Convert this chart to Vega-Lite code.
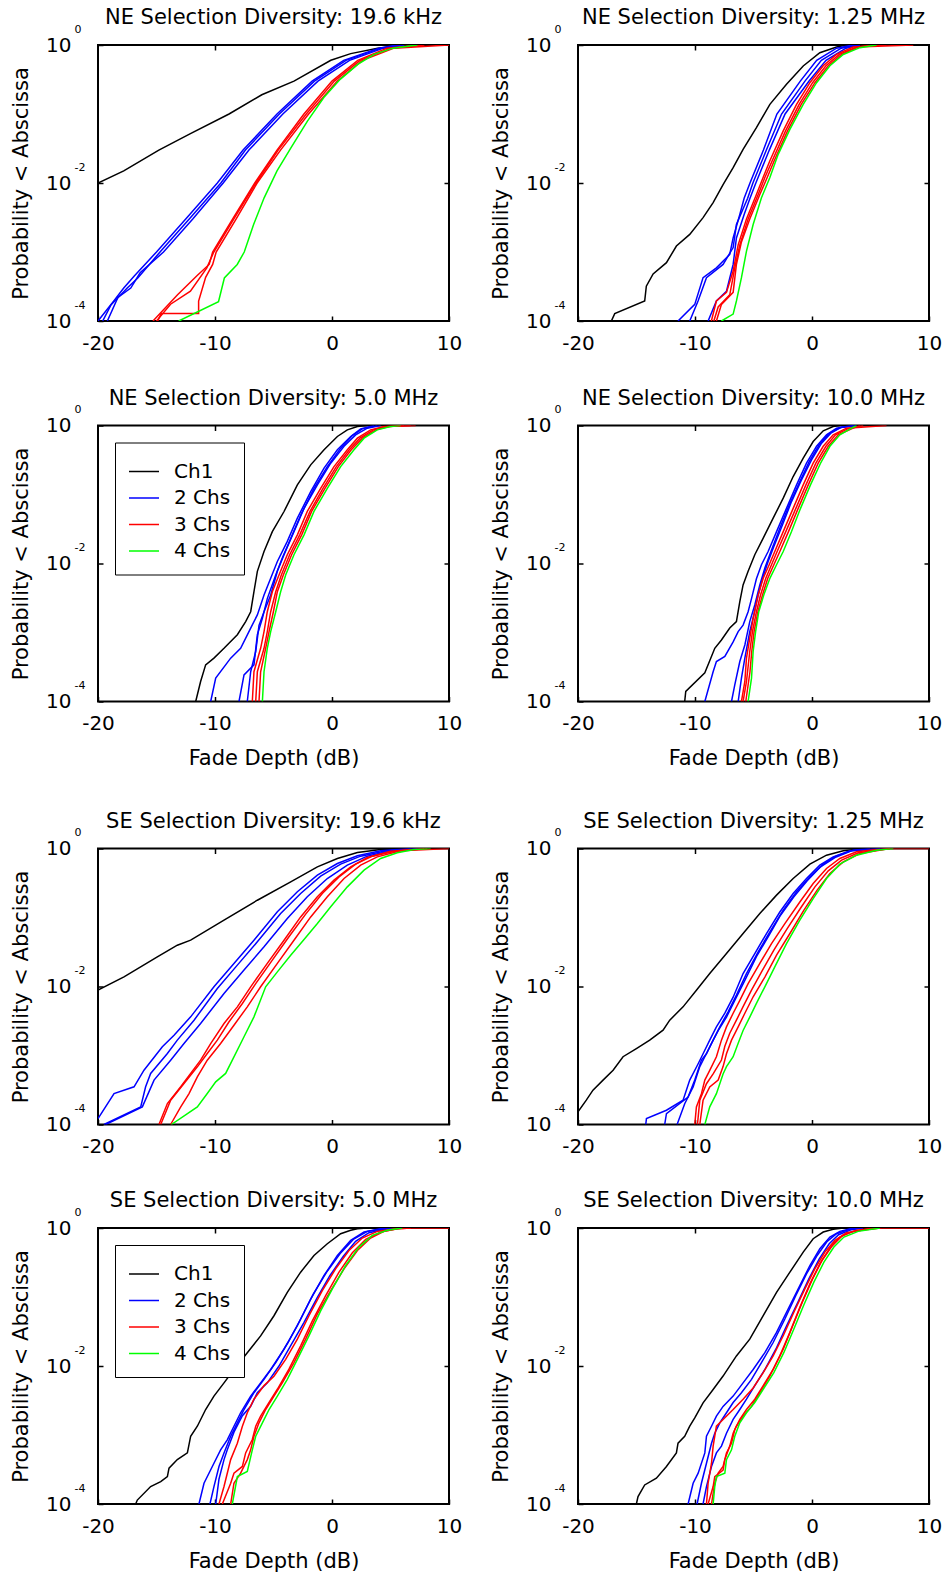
{
"$schema": "https://vega.github.io/schema/vega-lite/v6.json",
"background": "white",
"padding": {"left": 9, "top": 6, "right": 5, "bottom": 5},
"datasets": {"curves": [
{"panel":"a","s":"Ch1","id":"k","x":[-20,-17.8,-14.8,-12.1,-8.8,-6.0,-3.25,-0.1,1.6,3.9,6.4],"p":[0.01,0.015,0.03,0.052,0.1,0.19,0.3,0.6,0.75,0.9,1]},
{"panel":"a","s":"2 Chs","id":"b1","x":[-20,-18.6,-17.8,-16.9,-15.0,-12.5,-9.8,-7.6,-4.7,-1.7,1.0,4.0,5.6],"p":[0.0001,0.0002,0.0003,0.00045,0.001,0.003,0.01,0.03,0.1,0.3,0.6,0.9,1]},
{"panel":"a","s":"2 Chs","id":"b2","x":[-19.6,-18.9,-17.5,-16.6,-14.7,-12.2,-9.5,-7.4,-4.5,-1.5,1.2,4.2,5.9],"p":[0.0001,0.00017,0.0003,0.00042,0.001,0.003,0.01,0.03,0.1,0.3,0.6,0.9,1]},
{"panel":"a","s":"2 Chs","id":"b3","x":[-19.2,-18.3,-17.2,-16.4,-14.4,-11.9,-9.3,-7.1,-4.2,-1.2,1.5,4.4,6.2],"p":[0.0001,0.00022,0.0003,0.0005,0.001,0.003,0.01,0.03,0.1,0.3,0.6,0.9,1]},
{"panel":"a","s":"3 Chs","id":"r1","x":[-15.3,-13.2,-11.5,-10.5,-10.2,-8.5,-6.6,-4.7,-2.4,0.0,2.2,4.7,7.5],"p":[0.0001,0.00024,0.00046,0.00066,0.001,0.003,0.01,0.03,0.1,0.3,0.6,0.9,1]},
{"panel":"a","s":"3 Chs","id":"r2","x":[-15.0,-13.8,-12.1,-10.7,-10.1,-8.4,-6.5,-4.6,-2.2,0.2,2.4,5.0,7.9],"p":[0.0001,0.000175,0.00027,0.00059,0.001,0.003,0.01,0.03,0.1,0.3,0.6,0.9,1]},
{"panel":"a","s":"3 Chs","id":"r3","x":[-14.9,-14.6,-11.4,-11.4,-10.8,-10.2,-9.9,-8.2,-6.4,-4.4,-2.0,0.45,2.6,5.3,10],"p":[0.0001,0.000128,0.000128,0.000195,0.00043,0.00066,0.001,0.003,0.01,0.03,0.1,0.3,0.6,0.9,1]},
{"panel":"a","s":"4 Chs","id":"g","x":[-13.1,-9.7,-9.2,-8.1,-7.5,-6.7,-5.8,-4.7,-3.5,-2.1,-0.7,0.7,2.2,3.6,5.2,7.3],"p":[0.0001,0.00019,0.00042,0.00066,0.001,0.0025,0.0061,0.015,0.0325,0.079,0.173,0.318,0.525,0.732,0.9,1]},

{"panel":"b","s":"Ch1","id":"k","x":[-17.15,-16.86,-14.3,-14.16,-13.58,-12.44,-11.59,-10.45,-9.31,-8.45,-7.6,-6.74,-5.89,-4.75,-3.6,-2.18,-0.75,0.67,2.1,2.95],"p":[0.0001,0.000128,0.000195,0.00032,0.00048,0.0007,0.00122,0.0018,0.00315,0.0052,0.0095,0.0167,0.0308,0.0634,0.138,0.269,0.496,0.774,0.935,1]},
{"panel":"b","s":"2 Chs","id":"b1","x":[-11.45,-10.02,-9.31,-8.17,-7.03,-6.74,-6.17,-5.8,-5.3,-4.15,-3.0,-1.0,0.4,2.1,3.5],"p":[0.0001,0.000174,0.000425,0.00059,0.00092,0.0016,0.0035,0.006,0.01,0.03,0.1,0.3,0.6,0.9,1]},
{"panel":"b","s":"2 Chs","id":"b2","x":[-10.45,-9.74,-9.02,-7.6,-6.74,-6.46,-5.95,-5.5,-5.05,-3.9,-2.6,-0.6,0.8,2.5,3.8],"p":[0.0001,0.000195,0.000425,0.00066,0.00116,0.0025,0.004,0.006,0.01,0.03,0.1,0.3,0.6,0.9,1]},
{"panel":"b","s":"2 Chs","id":"b3","x":[-8.88,-8.17,-7.31,-6.74,-6.46,-5.8,-5.3,-4.8,-3.65,-2.3,-0.25,1.2,2.9,4.1],"p":[0.0001,0.000195,0.00027,0.00066,0.0016,0.0035,0.006,0.01,0.03,0.1,0.3,0.6,0.9,1]},
{"panel":"b","s":"3 Chs","id":"r1","x":[-8.6,-8.17,-7.31,-6.74,-6.31,-5.6,-4.75,-4.18,-3.6,-2.46,-1.32,-0.18,0.96,2.1,3.52,6.37],"p":[0.0001,0.000195,0.00026,0.00053,0.00127,0.003,0.0068,0.012,0.021,0.057,0.138,0.284,0.5,0.73,0.935,1]},
{"panel":"b","s":"3 Chs","id":"r2","x":[-8.39,-8.02,-7.03,-6.6,-6.17,-5.46,-4.6,-4.03,-3.4,-2.26,-1.1,0.05,1.19,2.33,3.81,8.66],"p":[0.0001,0.00016,0.00024,0.00059,0.00127,0.003,0.0068,0.012,0.021,0.057,0.138,0.284,0.5,0.73,0.935,1]},
{"panel":"b","s":"3 Chs","id":"r3","x":[-8.17,-7.74,-6.74,-6.46,-6.03,-5.32,-4.46,-3.83,-3.23,-2.09,-0.92,0.25,1.39,2.53,3.95,5.24],"p":[0.0001,0.000174,0.00026,0.00066,0.0014,0.003,0.0068,0.012,0.021,0.057,0.138,0.284,0.5,0.73,0.935,1]},
{"panel":"b","s":"4 Chs","id":"g","x":[-7.74,-6.74,-6.46,-6.03,-5.6,-5.03,-4.32,-3.6,-2.89,-1.89,-0.75,0.39,1.53,2.67,4.09,5.52],"p":[0.0001,0.000126,0.000195,0.000425,0.00103,0.0025,0.0061,0.012,0.026,0.06,0.138,0.284,0.5,0.73,0.915,1]},

{"panel":"c","s":"Ch1","id":"k","x":[-11.65,-11.23,-10.8,-10.09,-9.23,-8.09,-7.38,-6.95,-6.67,-6.38,-5.81,-5.1,-4.1,-2.96,-1.82,-0.68,0.46,1.31,2.17,3.0],"p":[0.0001,0.000195,0.00034,0.000425,0.00059,0.00093,0.00144,0.002,0.0039,0.0077,0.0149,0.029,0.0567,0.138,0.269,0.444,0.693,0.865,0.967,1]},
{"panel":"c","s":"2 Chs","id":"b1","x":[-10.37,-9.94,-8.66,-7.81,-6.95,-6.38,-5.81,-5.24,-4.67,-3.82,-2.96,-1.82,-0.68,0.46,1.6,2.45,3.59],"p":[0.0001,0.000218,0.000425,0.00059,0.00116,0.0018,0.0035,0.0061,0.0107,0.0209,0.0454,0.11,0.241,0.444,0.693,0.894,1]},
{"panel":"c","s":"2 Chs","id":"b2","x":[-7.95,-7.52,-6.67,-6.38,-5.95,-5.53,-4.81,-4.25,-3.53,-2.68,-1.54,-0.4,0.74,1.74,2.59,3.87],"p":[0.0001,0.000243,0.00034,0.00093,0.0016,0.0031,0.0068,0.012,0.023,0.05,0.123,0.254,0.47,0.716,0.894,1]},
{"panel":"c","s":"2 Chs","id":"b3","x":[-7.24,-6.95,-6.52,-6.24,-5.81,-5.24,-4.67,-4.1,-3.25,-2.39,-1.25,-0.11,1.03,2.02,3.02,4.16],"p":[0.0001,0.00027,0.00053,0.00127,0.002,0.0035,0.0077,0.0134,0.029,0.063,0.138,0.284,0.5,0.732,0.915,1]},
{"panel":"c","s":"3 Chs","id":"r1","x":[-6.81,-6.67,-6.1,-5.81,-5.53,-5.1,-4.53,-3.82,-2.96,-2.11,-0.97,0.17,1.31,2.17,3.3,4.44,6.72],"p":[0.0001,0.00027,0.00059,0.00103,0.002,0.0039,0.0068,0.0134,0.026,0.057,0.123,0.254,0.444,0.655,0.865,0.967,1]},
{"panel":"c","s":"3 Chs","id":"r2","x":[-6.52,-6.38,-5.81,-5.53,-5.24,-4.81,-4.33,-3.62,-2.76,-1.88,-0.77,0.37,1.48,2.39,3.53,4.73,7.15],"p":[0.0001,0.00027,0.00059,0.00103,0.002,0.0039,0.0068,0.0134,0.026,0.057,0.123,0.254,0.444,0.655,0.865,0.967,1]},
{"panel":"c","s":"3 Chs","id":"r3","x":[-6.24,-6.1,-5.67,-5.38,-5.01,-4.67,-4.16,-3.45,-2.59,-1.74,-0.6,0.54,1.65,2.59,3.73,4.87,6.15],"p":[0.0001,0.00027,0.00059,0.00103,0.002,0.0039,0.0068,0.0134,0.026,0.057,0.123,0.254,0.444,0.655,0.865,0.967,1]},
{"panel":"c","s":"4 Chs","id":"g","x":[-5.95,-5.81,-5.53,-5.24,-4.81,-4.39,-3.96,-3.25,-2.39,-1.54,-0.4,0.74,1.88,2.74,3.87,5.01,5.87],"p":[0.0001,0.00027,0.00059,0.00103,0.002,0.0039,0.0068,0.0134,0.026,0.057,0.123,0.254,0.444,0.655,0.865,0.967,1]},

{"panel":"d","s":"Ch1","id":"k","x":[-10.88,-10.79,-9.16,-8.31,-7.74,-7.03,-6.46,-6.17,-5.89,-5.46,-4.89,-4.17,-3.32,-2.46,-1.61,-0.75,0.1,0.96,1.81,2.38],"p":[0.0001,0.00014,0.00026,0.00059,0.00078,0.00116,0.00144,0.0028,0.0049,0.0077,0.0134,0.0233,0.0454,0.0885,0.182,0.336,0.586,0.837,0.967,1]},
{"panel":"d","s":"2 Chs","id":"b1","x":[-9.16,-8.45,-8.17,-7.45,-6.74,-6.31,-5.89,-5.46,-5.17,-4.75,-4.32,-3.75,-3.03,-2.18,-1.32,-0.47,0.39,1.24,2.1,3.52],"p":[0.0001,0.00027,0.00038,0.00045,0.00073,0.00103,0.00128,0.002,0.0031,0.006,0.0096,0.0149,0.029,0.063,0.138,0.284,0.5,0.732,0.915,1]},
{"panel":"d","s":"2 Chs","id":"b2","x":[-6.88,-6.6,-6.17,-5.74,-5.32,-4.89,-4.46,-4.03,-3.46,-2.75,-1.95,-1.1,-0.24,0.62,1.39,2.38,3.81],"p":[0.0001,0.000174,0.00038,0.00066,0.00144,0.0025,0.0049,0.0086,0.0157,0.0325,0.0705,0.146,0.3,0.525,0.749,0.935,1]},
{"panel":"d","s":"2 Chs","id":"b3","x":[-6.31,-6.03,-5.74,-5.32,-4.97,-4.6,-4.23,-3.75,-3.26,-2.52,-1.75,-0.9,-0.04,0.82,1.61,2.53,3.67],"p":[0.0001,0.000218,0.000425,0.00103,0.0018,0.0035,0.0061,0.0107,0.0176,0.0364,0.079,0.163,0.318,0.555,0.774,0.946,1]},
{"panel":"d","s":"3 Chs","id":"r1","x":[-6.03,-5.74,-5.6,-5.32,-5.03,-4.6,-4.17,-3.66,-3.18,-2.46,-1.61,-0.75,0.1,0.96,1.81,2.95,6.37],"p":[0.0001,0.000195,0.000425,0.00083,0.0016,0.0035,0.0061,0.0096,0.0149,0.029,0.063,0.138,0.284,0.5,0.732,0.915,1]},
{"panel":"d","s":"3 Chs","id":"r2","x":[-5.89,-5.6,-5.32,-5.09,-4.75,-4.4,-3.95,-3.46,-2.98,-2.24,-1.38,-0.52,0.33,1.19,2.01,3.18,4.38],"p":[0.0001,0.000195,0.00053,0.00103,0.002,0.0035,0.0061,0.0096,0.0149,0.029,0.063,0.138,0.284,0.5,0.732,0.915,1]},
{"panel":"d","s":"3 Chs","id":"r3","x":[-5.66,-5.3,-5.15,-4.95,-4.62,-4.23,-3.78,-3.26,-2.75,-2.01,-1.18,-0.32,0.53,1.39,2.24,3.52,4.09],"p":[0.0001,0.00027,0.00053,0.00103,0.002,0.0035,0.0061,0.0096,0.0149,0.029,0.063,0.138,0.284,0.5,0.732,0.915,1]},
{"panel":"d","s":"4 Chs","id":"g","x":[-5.46,-5.17,-5.03,-4.82,-4.55,-4.12,-3.6,-3.03,-2.46,-1.75,-0.98,-0.13,0.73,1.53,2.38,3.38,3.81],"p":[0.0001,0.000218,0.00053,0.00103,0.002,0.0035,0.0061,0.0096,0.0149,0.029,0.063,0.138,0.284,0.5,0.732,0.915,1]},

{"panel":"e","s":"Ch1","id":"k","x":[-20,-17.78,-14.93,-13.22,-12.08,-9.23,-6.38,-3.53,-1.25,0.46,2.17,4.16,6.44],"p":[0.00885,0.0138,0.0269,0.0397,0.0469,0.0915,0.178,0.329,0.542,0.716,0.875,0.967,1]},
{"panel":"e","s":"2 Chs","id":"b1","x":[-20,-18.63,-16.92,-16.07,-14.5,-13.5,-12.08,-10.09,-8.38,-6.67,-4.67,-2.96,-1.25,0.46,2.17,4.16,6.72],"p":[0.000122,0.000281,0.000352,0.000612,0.00134,0.00197,0.00363,0.0099,0.0216,0.0469,0.121,0.236,0.411,0.606,0.783,0.925,1]},
{"panel":"e","s":"2 Chs","id":"b2","x":[-19.49,-16.35,-15.93,-15.5,-14.07,-13.22,-11.79,-9.8,-8.09,-6.38,-4.39,-2.68,-0.97,0.74,2.45,4.44,7.29],"p":[0.0001,0.00018,0.000352,0.00055,0.00107,0.00167,0.00325,0.00935,0.0204,0.0444,0.114,0.223,0.397,0.593,0.774,0.915,1]},
{"panel":"e","s":"2 Chs","id":"b3","x":[-19.34,-16.21,-15.21,-13.79,-12.65,-11.23,-9.23,-7.52,-5.81,-3.82,-2.11,-0.4,1.31,3.02,5.01,7.58],"p":[0.0001,0.00018,0.00044,0.000856,0.00149,0.00291,0.00792,0.0173,0.0376,0.0968,0.2,0.367,0.573,0.774,0.925,1]},
{"panel":"e","s":"3 Chs","id":"r1","x":[-14.79,-14.07,-12.93,-12.08,-11.23,-10.37,-9.23,-8.09,-6.95,-5.53,-4.1,-2.68,-1.25,0.17,1.6,3.02,5.01,10],"p":[0.0001,0.000201,0.000352,0.00055,0.000856,0.00149,0.00291,0.00507,0.0099,0.0216,0.0469,0.102,0.2,0.348,0.542,0.741,0.915,1]},
{"panel":"e","s":"3 Chs","id":"r2","x":[-14.64,-13.79,-12.65,-11.51,-10.66,-9.8,-8.8,-7.66,-6.52,-5.1,-3.68,-2.25,-0.83,0.6,2.02,3.45,5.58,7.86],"p":[0.0001,0.000225,0.000393,0.000685,0.00107,0.00167,0.00308,0.00567,0.011,0.0241,0.0525,0.112,0.223,0.388,0.593,0.774,0.925,1]},
{"panel":"e","s":"3 Chs","id":"r3","x":[-13.79,-12.93,-12.22,-11.51,-10.66,-9.52,-8.38,-7.24,-6.1,-4.67,-3.25,-1.82,-0.4,1.03,2.45,3.87,5.87,8.15],"p":[0.0001,0.00018,0.000281,0.000491,0.000856,0.00149,0.00275,0.00507,0.0099,0.0216,0.0469,0.102,0.2,0.367,0.573,0.757,0.925,1]},
{"panel":"e","s":"4 Chs","id":"g","x":[-13.73,-11.51,-10.66,-9.94,-9.09,-8.38,-7.52,-6.67,-5.67,-4.67,-3.53,-2.39,-1.25,-0.11,1.31,2.74,4.16,5.58,7.01,8.43],"p":[0.0001,0.00018,0.000281,0.000415,0.00055,0.000957,0.00187,0.00363,0.0099,0.0163,0.0284,0.048,0.0818,0.143,0.278,0.485,0.716,0.865,0.967,1]},

{"panel":"f","s":"Ch1","id":"k","x":[-20,-19.29,-18.72,-17.86,-17.0,-16.15,-15.01,-13.87,-12.73,-12.16,-11.02,-9.88,-8.74,-7.31,-5.89,-4.46,-3.03,-1.61,-0.18,1.24,2.67,4.09,4.95],"p":[0.000153,0.000225,0.000315,0.00044,0.00061,0.00096,0.00126,0.00167,0.00233,0.00325,0.00507,0.00885,0.0154,0.03,0.0586,0.114,0.211,0.367,0.593,0.8,0.925,0.98,1]},
{"panel":"f","s":"2 Chs","id":"b1","x":[-14.21,-14.15,-12.44,-11.02,-10.45,-9.73,-9.31,-8.74,-8.17,-7.45,-6.74,-5.89,-4.89,-3.89,-2.75,-1.61,-0.47,0.67,1.81,3.24,6.38],"p":[0.0001,0.000122,0.000161,0.000225,0.00044,0.00076,0.00106,0.00167,0.0026,0.0041,0.007,0.0154,0.03,0.0586,0.12,0.223,0.367,0.573,0.757,0.925,1]},
{"panel":"f","s":"2 Chs","id":"b2","x":[-12.59,-12.44,-10.59,-10.02,-9.45,-9.02,-8.45,-7.88,-7.17,-6.46,-5.6,-4.6,-3.6,-2.46,-1.32,-0.18,0.96,2.1,3.52,4.95],"p":[0.0001,0.000144,0.00025,0.00044,0.00086,0.00106,0.00167,0.0026,0.0043,0.0075,0.0154,0.0317,0.062,0.128,0.236,0.388,0.593,0.783,0.946,1]},
{"panel":"f","s":"2 Chs","id":"b3","x":[-11.53,-10.88,-10.16,-9.59,-9.16,-8.59,-8.02,-7.31,-6.6,-5.74,-4.75,-3.75,-2.69,-1.55,-0.41,0.73,1.96,3.38,5.81],"p":[0.0001,0.0002,0.00035,0.00069,0.00096,0.0015,0.0023,0.0036,0.0063,0.0123,0.027,0.0526,0.108,0.199,0.34,0.542,0.74,0.925,1]},
{"panel":"f","s":"3 Chs","id":"r1","x":[-10.02,-9.88,-9.45,-9.16,-8.74,-8.17,-7.74,-7.31,-6.74,-6.17,-5.46,-4.46,-3.46,-2.32,-1.04,0.1,1.24,2.38,3.81,6.38,10],"p":[0.0001,0.00018,0.00028,0.00044,0.00061,0.00096,0.00167,0.0026,0.0041,0.0063,0.011,0.0216,0.0419,0.0816,0.168,0.311,0.513,0.716,0.895,1,1]},
{"panel":"f","s":"3 Chs","id":"r2","x":[-9.79,-9.59,-9.02,-8.45,-7.74,-7.45,-7.03,-6.46,-5.89,-5.17,-4.23,-3.26,-2.12,-0.9,0.25,1.39,2.53,3.95,6.66],"p":[0.0001,0.000225,0.00039,0.00054,0.00086,0.00136,0.0021,0.00325,0.0051,0.00885,0.0173,0.0336,0.0692,0.143,0.278,0.475,0.678,0.865,1]},
{"panel":"f","s":"3 Chs","id":"r3","x":[-9.59,-9.31,-8.74,-8.02,-7.6,-7.31,-6.88,-6.31,-5.74,-5.03,-4.03,-3.03,-1.89,-0.69,0.44,1.53,2.67,4.09,6.66],"p":[0.0001,0.000225,0.00035,0.00044,0.00069,0.00106,0.00167,0.0026,0.0041,0.0071,0.0137,0.0284,0.0586,0.128,0.249,0.434,0.641,0.846,1]},
{"panel":"f","s":"4 Chs","id":"g","x":[-9.16,-8.74,-8.17,-7.6,-7.31,-6.74,-6.31,-5.89,-5.32,-4.75,-4.03,-3.18,-2.18,-1.04,0.1,1.24,2.38,3.81,5.52,6.95],"p":[0.0001,0.00018,0.00028,0.00054,0.00069,0.00096,0.0015,0.0023,0.0036,0.0057,0.0099,0.0193,0.0419,0.0915,0.188,0.367,0.593,0.8,0.946,1]},

{"panel":"g","s":"Ch1","id":"k","x":[-16.78,-16.64,-15.5,-14.64,-14.07,-13.93,-13.22,-12.36,-12.08,-11.51,-10.8,-10.09,-9.23,-8.38,-7.24,-6.1,-4.96,-3.82,-2.68,-1.54,-0.4,0.74,1.6,2.17,3.0],"p":[0.0001,0.000114,0.000179,0.000211,0.00025,0.00033,0.00044,0.00055,0.00096,0.00134,0.00234,0.00366,0.0057,0.0089,0.0156,0.0273,0.0535,0.117,0.229,0.4,0.591,0.827,0.925,0.978,1]},
{"panel":"g","s":"2 Chs","id":"b1","x":[-11.37,-10.94,-10.09,-9.52,-8.95,-8.38,-7.81,-6.95,-6.1,-5.24,-4.1,-2.96,-1.82,-0.68,0.46,1.6,2.74,4.16,5.58],"p":[0.0001,0.0002,0.00039,0.00061,0.00085,0.00134,0.0021,0.00366,0.0057,0.0089,0.0175,0.0383,0.0935,0.205,0.4,0.661,0.875,0.978,1]},
{"panel":"g","s":"2 Chs","id":"b2","x":[-10.43,-10.09,-9.66,-9.23,-8.66,-8.09,-7.52,-6.67,-5.81,-4.81,-3.76,-2.68,-1.6,-0.46,0.68,1.82,3.02,4.44,5.87],"p":[0.0001,0.000179,0.00035,0.00055,0.00096,0.0015,0.00234,0.0041,0.0064,0.0112,0.0219,0.048,0.11,0.229,0.423,0.684,0.894,0.978,1]},
{"panel":"g","s":"2 Chs","id":"b3","x":[-9.94,-9.66,-9.23,-8.95,-8.38,-7.66,-6.95,-6.38,-5.53,-4.53,-3.53,-2.39,-1.25,-0.17,0.97,2.02,3.16,4.73,6.15],"p":[0.0001,0.00023,0.00044,0.00061,0.0011,0.0019,0.0026,0.0041,0.0057,0.01,0.0197,0.043,0.099,0.205,0.39,0.64,0.855,0.978,1]},
{"panel":"g","s":"3 Chs","id":"r1","x":[-9.66,-9.23,-8.66,-8.09,-7.66,-7.24,-6.67,-5.81,-4.96,-3.96,-2.96,-1.97,-0.83,0.31,1.45,2.59,3.87,5.87],"p":[0.0001,0.000179,0.00044,0.00076,0.00134,0.0021,0.0033,0.0052,0.0071,0.0125,0.0245,0.0535,0.124,0.256,0.473,0.715,0.894,1]},
{"panel":"g","s":"3 Chs","id":"r2","x":[-9.37,-8.66,-8.38,-7.66,-7.38,-6.81,-6.52,-6.1,-5.38,-4.67,-3.68,-2.68,-1.68,-0.54,0.6,1.74,2.88,4.16,5.6,6.8,10],"p":[0.0001,0.0002,0.00028,0.00035,0.00055,0.00086,0.00134,0.00188,0.00296,0.0046,0.009,0.0196,0.045,0.105,0.229,0.437,0.684,0.875,0.978,1,1]},
{"panel":"g","s":"3 Chs","id":"r3","x":[-8.66,-8.38,-7.81,-7.24,-6.95,-6.67,-6.24,-5.67,-4.96,-4.25,-3.25,-2.25,-1.25,-0.11,1.03,2.17,3.3,4.44,5.58,6.72],"p":[0.0001,0.0002,0.00028,0.00044,0.00061,0.00096,0.0015,0.00234,0.00366,0.0057,0.0112,0.0245,0.0568,0.124,0.256,0.473,0.715,0.894,0.978,1]},
{"panel":"g","s":"4 Chs","id":"g","x":[-8.52,-8.09,-7.24,-6.81,-6.52,-5.95,-5.38,-4.67,-3.82,-2.96,-1.97,-0.97,0.03,1.17,2.31,3.45,4.73,6.01],"p":[0.0001,0.00025,0.000297,0.00061,0.00096,0.0015,0.00234,0.00366,0.0064,0.0125,0.0274,0.063,0.131,0.286,0.529,0.782,0.925,1]},

{"panel":"h","s":"Ch1","id":"k","x":[-15.01,-14.87,-14.3,-13.3,-12.44,-11.59,-11.45,-10.88,-10.45,-10.02,-9.31,-8.45,-7.6,-6.46,-5.32,-4.17,-3.03,-1.89,-0.75,0.1,0.96,1.81,2.67],"p":[0.0001,0.000128,0.000189,0.000237,0.00035,0.00055,0.00076,0.00096,0.00134,0.00177,0.00292,0.00457,0.00715,0.014,0.0245,0.0535,0.117,0.229,0.447,0.7,0.875,0.956,1]},
{"panel":"h","s":"2 Chs","id":"b1","x":[-10.59,-10.16,-9.73,-9.16,-9.02,-8.59,-8.17,-7.6,-6.74,-5.89,-5.03,-4.03,-3.03,-2.04,-1.04,-0.18,0.67,1.53,2.38,3.52],"p":[0.0001,0.0002,0.00028,0.00055,0.00096,0.00134,0.00188,0.0026,0.00366,0.0057,0.0089,0.0156,0.0307,0.0668,0.146,0.286,0.5,0.74,0.894,1]},
{"panel":"h","s":"2 Chs","id":"b2","x":[-9.82,-9.45,-9.02,-8.59,-8.31,-7.88,-7.31,-6.74,-6.03,-5.17,-4.32,-3.32,-2.32,-1.38,-0.47,0.44,1.3,2.1,3.24,4.09],"p":[0.0001,0.0002,0.00039,0.00076,0.00106,0.0015,0.0021,0.00296,0.0041,0.0064,0.0112,0.0219,0.048,0.105,0.216,0.4,0.64,0.827,0.956,1]},
{"panel":"h","s":"2 Chs","id":"b3","x":[-9.31,-9.02,-8.59,-8.17,-7.74,-7.31,-6.74,-6.17,-5.6,-4.89,-4.03,-3.09,-2.18,-1.18,-0.27,0.62,1.47,2.27,3.38,4.38],"p":[0.0001,0.000179,0.00035,0.00055,0.00069,0.00106,0.00168,0.00234,0.0033,0.0052,0.0089,0.0175,0.038,0.0855,0.183,0.358,0.591,0.8,0.946,1]},
{"panel":"h","s":"3 Chs","id":"r1","x":[-9.02,-8.88,-8.59,-8.45,-8.17,-7.6,-6.74,-5.89,-5.03,-4.17,-3.32,-2.46,-1.55,-0.61,0.24,1.1,1.96,2.95,4.95,6.0,10],"p":[0.0001,0.0002,0.00039,0.00069,0.00134,0.00168,0.00234,0.0033,0.0048,0.008,0.014,0.0274,0.06,0.131,0.256,0.447,0.661,0.855,0.978,1,1]},
{"panel":"h","s":"3 Chs","id":"r2","x":[-8.88,-8.45,-8.31,-7.6,-7.45,-7.03,-6.74,-6.46,-5.89,-5.17,-4.46,-3.6,-2.75,-1.89,-1.04,-0.18,0.67,1.53,2.38,3.52,5.81],"p":[0.0001,0.000179,0.00025,0.00031,0.00044,0.00069,0.00106,0.00134,0.00188,0.0026,0.0041,0.0072,0.014,0.0307,0.071,0.155,0.302,0.512,0.74,0.894,1]},
{"panel":"h","s":"3 Chs","id":"r3","x":[-8.59,-8.31,-8.02,-7.6,-7.31,-6.88,-6.6,-6.17,-5.6,-4.89,-4.17,-3.32,-2.46,-1.66,-0.81,0.05,0.9,1.76,2.61,3.81,5.52],"p":[0.0001,0.0002,0.00028,0.00035,0.00055,0.00076,0.0012,0.00168,0.00234,0.0033,0.0052,0.0089,0.0175,0.038,0.0855,0.183,0.35,0.56,0.782,0.925,1]},
{"panel":"h","s":"4 Chs","id":"g","x":[-8.45,-8.31,-8.17,-7.45,-7.31,-6.88,-6.6,-6.17,-5.6,-4.89,-4.17,-3.26,-2.41,-1.55,-0.7,0.16,1.02,1.87,2.73,3.95,5.81],"p":[0.0001,0.000179,0.00025,0.00028,0.00044,0.00061,0.00096,0.0015,0.0021,0.00296,0.0046,0.008,0.0156,0.0343,0.0765,0.164,0.32,0.529,0.74,0.894,1]}
]},
"data": {"name": "curves"},
"spacing": 39.5,
"resolve": {"scale": {"color": "independent"}, "legend": {"color": "independent"}},
"vconcat": [
 {"spacing": 32.5, "resolve": {"scale": {"color": "independent"}, "legend": {"color": "independent"}}, "vconcat": [
  {"spacing": 26, "resolve": {"scale": {"color": "independent"}, "legend": {"color": "independent"}}, "hconcat": [
   {"width": 351, "height": 276, "title": "NE Selection Diversity: 19.6 kHz",
    "transform": [{"filter": "datum.panel == 'a'"}, {"flatten": ["x", "p"]}],
    "resolve": {"axis": {"x": "independent", "y": "independent"}},
    "layer": [
     {"mark": {"type": "line", "strokeWidth": 1.5, "clip": true},
      "encoding": {
       "x": {"field": "x", "type": "quantitative", "scale": {"domain": [-20, 10], "nice": false}, "axis": {"orient": "bottom", "values": [-20, -10, 0, 10], "labelExpr": "'' + datum.value", "labelPadding": 17, "title": null}},
       "y": {"field": "p", "type": "quantitative", "scale": {"type": "log", "domain": [0.0001, 1]}, "axis": {"orient": "left", "values": [0.0001, 0.01, 1], "labelExpr": "'10'", "labelPadding": 32, "labelBaseline": "middle", "title": "Probability < Abscissa", "titlePadding": 14}},
       "color": {"field": "s", "type": "nominal", "scale": {"domain": ["Ch1", "2 Chs", "3 Chs", "4 Chs"], "range": ["#000000", "#0000ff", "#ff0000", "#00ff00"]}, "legend": null},
       "detail": {"field": "id"},
       "order": [{"field": "p", "type": "quantitative"}, {"field": "x", "type": "quantitative"}]}},
     {"mark": {"type": "point", "opacity": 0},
      "encoding": {
       "x": {"field": "x", "type": "quantitative", "scale": {"domain": [-20, 10], "nice": false}, "axis": {"orient": "top", "values": [-10, 0], "labels": false, "title": null}},
       "y": {"field": "p", "type": "quantitative", "scale": {"type": "log", "domain": [0.0001, 1]}, "axis": {"orient": "left", "values": [0.0001, 0.01, 1], "ticks": false, "labelExpr": "datum.value > 0.5 ? '0' : datum.value > 0.005 ? '-2' : '-4'", "labelFontSize": 11, "labelAlign": "left", "labelBaseline": "middle", "labelOffset": -16, "labelPadding": 24, "title": null}}}},
     {"mark": {"type": "point", "opacity": 0},
      "encoding": {
       "x": {"field": "x", "type": "quantitative", "scale": {"domain": [-20, 10], "nice": false}, "axis": null},
       "y": {"field": "p", "type": "quantitative", "scale": {"type": "log", "domain": [0.0001, 1]}, "axis": {"orient": "right", "values": [0.01], "labels": false, "title": null}}}}
    ]},
   {"width": 351, "height": 276, "title": "NE Selection Diversity: 1.25 MHz",
    "transform": [{"filter": "datum.panel == 'b'"}, {"flatten": ["x", "p"]}],
    "resolve": {"axis": {"x": "independent", "y": "independent"}},
    "layer": [
     {"mark": {"type": "line", "strokeWidth": 1.5, "clip": true},
      "encoding": {
       "x": {"field": "x", "type": "quantitative", "scale": {"domain": [-20, 10], "nice": false}, "axis": {"orient": "bottom", "values": [-20, -10, 0, 10], "labelExpr": "'' + datum.value", "labelPadding": 17, "title": null}},
       "y": {"field": "p", "type": "quantitative", "scale": {"type": "log", "domain": [0.0001, 1]}, "axis": {"orient": "left", "values": [0.0001, 0.01, 1], "labelExpr": "'10'", "labelPadding": 32, "labelBaseline": "middle", "title": "Probability < Abscissa", "titlePadding": 14}},
       "color": {"field": "s", "type": "nominal", "scale": {"domain": ["Ch1", "2 Chs", "3 Chs", "4 Chs"], "range": ["#000000", "#0000ff", "#ff0000", "#00ff00"]}, "legend": null},
       "detail": {"field": "id"},
       "order": [{"field": "p", "type": "quantitative"}, {"field": "x", "type": "quantitative"}]}},
     {"mark": {"type": "point", "opacity": 0},
      "encoding": {
       "x": {"field": "x", "type": "quantitative", "scale": {"domain": [-20, 10], "nice": false}, "axis": {"orient": "top", "values": [-10, 0], "labels": false, "title": null}},
       "y": {"field": "p", "type": "quantitative", "scale": {"type": "log", "domain": [0.0001, 1]}, "axis": {"orient": "left", "values": [0.0001, 0.01, 1], "ticks": false, "labelExpr": "datum.value > 0.5 ? '0' : datum.value > 0.005 ? '-2' : '-4'", "labelFontSize": 11, "labelAlign": "left", "labelBaseline": "middle", "labelOffset": -16, "labelPadding": 24, "title": null}}}},
     {"mark": {"type": "point", "opacity": 0},
      "encoding": {
       "x": {"field": "x", "type": "quantitative", "scale": {"domain": [-20, 10], "nice": false}, "axis": null},
       "y": {"field": "p", "type": "quantitative", "scale": {"type": "log", "domain": [0.0001, 1]}, "axis": {"orient": "right", "values": [0.01], "labels": false, "title": null}}}}
    ]}
  ]},
  {"spacing": 26, "resolve": {"scale": {"color": "independent"}, "legend": {"color": "independent"}}, "hconcat": [
   {"width": 351, "height": 276, "title": "NE Selection Diversity: 5.0 MHz",
    "transform": [{"filter": "datum.panel == 'c'"}, {"flatten": ["x", "p"]}],
    "resolve": {"axis": {"x": "independent", "y": "independent"}},
    "layer": [
     {"mark": {"type": "line", "strokeWidth": 1.5, "clip": true},
      "encoding": {
       "x": {"field": "x", "type": "quantitative", "scale": {"domain": [-20, 10], "nice": false}, "axis": {"orient": "bottom", "values": [-20, -10, 0, 10], "labelExpr": "'' + datum.value", "labelPadding": 17, "title": "Fade Depth (dB)", "titlePadding": 14}},
       "y": {"field": "p", "type": "quantitative", "scale": {"type": "log", "domain": [0.0001, 1]}, "axis": {"orient": "left", "values": [0.0001, 0.01, 1], "labelExpr": "'10'", "labelPadding": 32, "labelBaseline": "middle", "title": "Probability < Abscissa", "titlePadding": 14}},
       "color": {"field": "s", "type": "nominal", "scale": {"domain": ["Ch1", "2 Chs", "3 Chs", "4 Chs"], "range": ["#000000", "#0000ff", "#ff0000", "#00ff00"]},
        "legend": {"orient": "top-left", "offset": 17, "title": null, "symbolType": "stroke", "symbolSize": 900, "symbolStrokeWidth": 1.5, "labelFont": "DejaVu Sans", "labelFontSize": 20, "labelColor": "black", "labelOffset": 14, "strokeColor": "black", "padding": 13, "rowPadding": 0.5, "fillColor": "white"}},
       "detail": {"field": "id"},
       "order": [{"field": "p", "type": "quantitative"}, {"field": "x", "type": "quantitative"}]}},
     {"mark": {"type": "point", "opacity": 0},
      "encoding": {
       "x": {"field": "x", "type": "quantitative", "scale": {"domain": [-20, 10], "nice": false}, "axis": {"orient": "top", "values": [-10, 0], "labels": false, "title": null}},
       "y": {"field": "p", "type": "quantitative", "scale": {"type": "log", "domain": [0.0001, 1]}, "axis": {"orient": "left", "values": [0.0001, 0.01, 1], "ticks": false, "labelExpr": "datum.value > 0.5 ? '0' : datum.value > 0.005 ? '-2' : '-4'", "labelFontSize": 11, "labelAlign": "left", "labelBaseline": "middle", "labelOffset": -16, "labelPadding": 24, "title": null}}}},
     {"mark": {"type": "point", "opacity": 0},
      "encoding": {
       "x": {"field": "x", "type": "quantitative", "scale": {"domain": [-20, 10], "nice": false}, "axis": null},
       "y": {"field": "p", "type": "quantitative", "scale": {"type": "log", "domain": [0.0001, 1]}, "axis": {"orient": "right", "values": [0.01], "labels": false, "title": null}}}}
    ]},
   {"width": 351, "height": 276, "title": "NE Selection Diversity: 10.0 MHz",
    "transform": [{"filter": "datum.panel == 'd'"}, {"flatten": ["x", "p"]}],
    "resolve": {"axis": {"x": "independent", "y": "independent"}},
    "layer": [
     {"mark": {"type": "line", "strokeWidth": 1.5, "clip": true},
      "encoding": {
       "x": {"field": "x", "type": "quantitative", "scale": {"domain": [-20, 10], "nice": false}, "axis": {"orient": "bottom", "values": [-20, -10, 0, 10], "labelExpr": "'' + datum.value", "labelPadding": 17, "title": "Fade Depth (dB)", "titlePadding": 14}},
       "y": {"field": "p", "type": "quantitative", "scale": {"type": "log", "domain": [0.0001, 1]}, "axis": {"orient": "left", "values": [0.0001, 0.01, 1], "labelExpr": "'10'", "labelPadding": 32, "labelBaseline": "middle", "title": "Probability < Abscissa", "titlePadding": 14}},
       "color": {"field": "s", "type": "nominal", "scale": {"domain": ["Ch1", "2 Chs", "3 Chs", "4 Chs"], "range": ["#000000", "#0000ff", "#ff0000", "#00ff00"]}, "legend": null},
       "detail": {"field": "id"},
       "order": [{"field": "p", "type": "quantitative"}, {"field": "x", "type": "quantitative"}]}},
     {"mark": {"type": "point", "opacity": 0},
      "encoding": {
       "x": {"field": "x", "type": "quantitative", "scale": {"domain": [-20, 10], "nice": false}, "axis": {"orient": "top", "values": [-10, 0], "labels": false, "title": null}},
       "y": {"field": "p", "type": "quantitative", "scale": {"type": "log", "domain": [0.0001, 1]}, "axis": {"orient": "left", "values": [0.0001, 0.01, 1], "ticks": false, "labelExpr": "datum.value > 0.5 ? '0' : datum.value > 0.005 ? '-2' : '-4'", "labelFontSize": 11, "labelAlign": "left", "labelBaseline": "middle", "labelOffset": -16, "labelPadding": 24, "title": null}}}},
     {"mark": {"type": "point", "opacity": 0},
      "encoding": {
       "x": {"field": "x", "type": "quantitative", "scale": {"domain": [-20, 10], "nice": false}, "axis": null},
       "y": {"field": "p", "type": "quantitative", "scale": {"type": "log", "domain": [0.0001, 1]}, "axis": {"orient": "right", "values": [0.01], "labels": false, "title": null}}}}
    ]}
  ]}
 ]},
 {"spacing": 31.5, "resolve": {"scale": {"color": "independent"}, "legend": {"color": "independent"}}, "vconcat": [
  {"spacing": 26, "resolve": {"scale": {"color": "independent"}, "legend": {"color": "independent"}}, "hconcat": [
   {"width": 351, "height": 276, "title": "SE Selection Diversity: 19.6 kHz",
    "transform": [{"filter": "datum.panel == 'e'"}, {"flatten": ["x", "p"]}],
    "resolve": {"axis": {"x": "independent", "y": "independent"}},
    "layer": [
     {"mark": {"type": "line", "strokeWidth": 1.5, "clip": true},
      "encoding": {
       "x": {"field": "x", "type": "quantitative", "scale": {"domain": [-20, 10], "nice": false}, "axis": {"orient": "bottom", "values": [-20, -10, 0, 10], "labelExpr": "'' + datum.value", "labelPadding": 17, "title": null}},
       "y": {"field": "p", "type": "quantitative", "scale": {"type": "log", "domain": [0.0001, 1]}, "axis": {"orient": "left", "values": [0.0001, 0.01, 1], "labelExpr": "'10'", "labelPadding": 32, "labelBaseline": "middle", "title": "Probability < Abscissa", "titlePadding": 14}},
       "color": {"field": "s", "type": "nominal", "scale": {"domain": ["Ch1", "2 Chs", "3 Chs", "4 Chs"], "range": ["#000000", "#0000ff", "#ff0000", "#00ff00"]}, "legend": null},
       "detail": {"field": "id"},
       "order": [{"field": "p", "type": "quantitative"}, {"field": "x", "type": "quantitative"}]}},
     {"mark": {"type": "point", "opacity": 0},
      "encoding": {
       "x": {"field": "x", "type": "quantitative", "scale": {"domain": [-20, 10], "nice": false}, "axis": {"orient": "top", "values": [-10, 0], "labels": false, "title": null}},
       "y": {"field": "p", "type": "quantitative", "scale": {"type": "log", "domain": [0.0001, 1]}, "axis": {"orient": "left", "values": [0.0001, 0.01, 1], "ticks": false, "labelExpr": "datum.value > 0.5 ? '0' : datum.value > 0.005 ? '-2' : '-4'", "labelFontSize": 11, "labelAlign": "left", "labelBaseline": "middle", "labelOffset": -16, "labelPadding": 24, "title": null}}}},
     {"mark": {"type": "point", "opacity": 0},
      "encoding": {
       "x": {"field": "x", "type": "quantitative", "scale": {"domain": [-20, 10], "nice": false}, "axis": null},
       "y": {"field": "p", "type": "quantitative", "scale": {"type": "log", "domain": [0.0001, 1]}, "axis": {"orient": "right", "values": [0.01], "labels": false, "title": null}}}}
    ]},
   {"width": 351, "height": 276, "title": "SE Selection Diversity: 1.25 MHz",
    "transform": [{"filter": "datum.panel == 'f'"}, {"flatten": ["x", "p"]}],
    "resolve": {"axis": {"x": "independent", "y": "independent"}},
    "layer": [
     {"mark": {"type": "line", "strokeWidth": 1.5, "clip": true},
      "encoding": {
       "x": {"field": "x", "type": "quantitative", "scale": {"domain": [-20, 10], "nice": false}, "axis": {"orient": "bottom", "values": [-20, -10, 0, 10], "labelExpr": "'' + datum.value", "labelPadding": 17, "title": null}},
       "y": {"field": "p", "type": "quantitative", "scale": {"type": "log", "domain": [0.0001, 1]}, "axis": {"orient": "left", "values": [0.0001, 0.01, 1], "labelExpr": "'10'", "labelPadding": 32, "labelBaseline": "middle", "title": "Probability < Abscissa", "titlePadding": 14}},
       "color": {"field": "s", "type": "nominal", "scale": {"domain": ["Ch1", "2 Chs", "3 Chs", "4 Chs"], "range": ["#000000", "#0000ff", "#ff0000", "#00ff00"]}, "legend": null},
       "detail": {"field": "id"},
       "order": [{"field": "p", "type": "quantitative"}, {"field": "x", "type": "quantitative"}]}},
     {"mark": {"type": "point", "opacity": 0},
      "encoding": {
       "x": {"field": "x", "type": "quantitative", "scale": {"domain": [-20, 10], "nice": false}, "axis": {"orient": "top", "values": [-10, 0], "labels": false, "title": null}},
       "y": {"field": "p", "type": "quantitative", "scale": {"type": "log", "domain": [0.0001, 1]}, "axis": {"orient": "left", "values": [0.0001, 0.01, 1], "ticks": false, "labelExpr": "datum.value > 0.5 ? '0' : datum.value > 0.005 ? '-2' : '-4'", "labelFontSize": 11, "labelAlign": "left", "labelBaseline": "middle", "labelOffset": -16, "labelPadding": 24, "title": null}}}},
     {"mark": {"type": "point", "opacity": 0},
      "encoding": {
       "x": {"field": "x", "type": "quantitative", "scale": {"domain": [-20, 10], "nice": false}, "axis": null},
       "y": {"field": "p", "type": "quantitative", "scale": {"type": "log", "domain": [0.0001, 1]}, "axis": {"orient": "right", "values": [0.01], "labels": false, "title": null}}}}
    ]}
  ]},
  {"spacing": 26, "resolve": {"scale": {"color": "independent"}, "legend": {"color": "independent"}}, "hconcat": [
   {"width": 351, "height": 276, "title": "SE Selection Diversity: 5.0 MHz",
    "transform": [{"filter": "datum.panel == 'g'"}, {"flatten": ["x", "p"]}],
    "resolve": {"axis": {"x": "independent", "y": "independent"}},
    "layer": [
     {"mark": {"type": "line", "strokeWidth": 1.5, "clip": true},
      "encoding": {
       "x": {"field": "x", "type": "quantitative", "scale": {"domain": [-20, 10], "nice": false}, "axis": {"orient": "bottom", "values": [-20, -10, 0, 10], "labelExpr": "'' + datum.value", "labelPadding": 17, "title": "Fade Depth (dB)", "titlePadding": 14}},
       "y": {"field": "p", "type": "quantitative", "scale": {"type": "log", "domain": [0.0001, 1]}, "axis": {"orient": "left", "values": [0.0001, 0.01, 1], "labelExpr": "'10'", "labelPadding": 32, "labelBaseline": "middle", "title": "Probability < Abscissa", "titlePadding": 14}},
       "color": {"field": "s", "type": "nominal", "scale": {"domain": ["Ch1", "2 Chs", "3 Chs", "4 Chs"], "range": ["#000000", "#0000ff", "#ff0000", "#00ff00"]},
        "legend": {"orient": "top-left", "offset": 17, "title": null, "symbolType": "stroke", "symbolSize": 900, "symbolStrokeWidth": 1.5, "labelFont": "DejaVu Sans", "labelFontSize": 20, "labelColor": "black", "labelOffset": 14, "strokeColor": "black", "padding": 13, "rowPadding": 0.5, "fillColor": "white"}},
       "detail": {"field": "id"},
       "order": [{"field": "p", "type": "quantitative"}, {"field": "x", "type": "quantitative"}]}},
     {"mark": {"type": "point", "opacity": 0},
      "encoding": {
       "x": {"field": "x", "type": "quantitative", "scale": {"domain": [-20, 10], "nice": false}, "axis": {"orient": "top", "values": [-10, 0], "labels": false, "title": null}},
       "y": {"field": "p", "type": "quantitative", "scale": {"type": "log", "domain": [0.0001, 1]}, "axis": {"orient": "left", "values": [0.0001, 0.01, 1], "ticks": false, "labelExpr": "datum.value > 0.5 ? '0' : datum.value > 0.005 ? '-2' : '-4'", "labelFontSize": 11, "labelAlign": "left", "labelBaseline": "middle", "labelOffset": -16, "labelPadding": 24, "title": null}}}},
     {"mark": {"type": "point", "opacity": 0},
      "encoding": {
       "x": {"field": "x", "type": "quantitative", "scale": {"domain": [-20, 10], "nice": false}, "axis": null},
       "y": {"field": "p", "type": "quantitative", "scale": {"type": "log", "domain": [0.0001, 1]}, "axis": {"orient": "right", "values": [0.01], "labels": false, "title": null}}}}
    ]},
   {"width": 351, "height": 276, "title": "SE Selection Diversity: 10.0 MHz",
    "transform": [{"filter": "datum.panel == 'h'"}, {"flatten": ["x", "p"]}],
    "resolve": {"axis": {"x": "independent", "y": "independent"}},
    "layer": [
     {"mark": {"type": "line", "strokeWidth": 1.5, "clip": true},
      "encoding": {
       "x": {"field": "x", "type": "quantitative", "scale": {"domain": [-20, 10], "nice": false}, "axis": {"orient": "bottom", "values": [-20, -10, 0, 10], "labelExpr": "'' + datum.value", "labelPadding": 17, "title": "Fade Depth (dB)", "titlePadding": 14}},
       "y": {"field": "p", "type": "quantitative", "scale": {"type": "log", "domain": [0.0001, 1]}, "axis": {"orient": "left", "values": [0.0001, 0.01, 1], "labelExpr": "'10'", "labelPadding": 32, "labelBaseline": "middle", "title": "Probability < Abscissa", "titlePadding": 14}},
       "color": {"field": "s", "type": "nominal", "scale": {"domain": ["Ch1", "2 Chs", "3 Chs", "4 Chs"], "range": ["#000000", "#0000ff", "#ff0000", "#00ff00"]}, "legend": null},
       "detail": {"field": "id"},
       "order": [{"field": "p", "type": "quantitative"}, {"field": "x", "type": "quantitative"}]}},
     {"mark": {"type": "point", "opacity": 0},
      "encoding": {
       "x": {"field": "x", "type": "quantitative", "scale": {"domain": [-20, 10], "nice": false}, "axis": {"orient": "top", "values": [-10, 0], "labels": false, "title": null}},
       "y": {"field": "p", "type": "quantitative", "scale": {"type": "log", "domain": [0.0001, 1]}, "axis": {"orient": "left", "values": [0.0001, 0.01, 1], "ticks": false, "labelExpr": "datum.value > 0.5 ? '0' : datum.value > 0.005 ? '-2' : '-4'", "labelFontSize": 11, "labelAlign": "left", "labelBaseline": "middle", "labelOffset": -16, "labelPadding": 24, "title": null}}}},
     {"mark": {"type": "point", "opacity": 0},
      "encoding": {
       "x": {"field": "x", "type": "quantitative", "scale": {"domain": [-20, 10], "nice": false}, "axis": null},
       "y": {"field": "p", "type": "quantitative", "scale": {"type": "log", "domain": [0.0001, 1]}, "axis": {"orient": "right", "values": [0.01], "labels": false, "title": null}}}}
    ]}
  ]}
 ]}
],
"config": {
 "view": {"stroke": "black", "strokeWidth": 2, "fill": "white"},
 "axis": {"grid": false, "domain": false, "labelFont": "DejaVu Sans", "labelFontSize": 20, "labelColor": "black", "tickColor": "black", "tickWidth": 1.5, "tickSize": -5, "titleFont": "DejaVu Sans", "titleFontSize": 21, "titleFontWeight": "normal", "titleColor": "black", "labelFlush": false, "labelOverlap": false, "labelBound": false},
 "title": {"font": "DejaVu Sans", "fontSize": 21, "fontWeight": "normal", "color": "black", "offset": -5, "anchor": "middle", "frame": "group"}
}
}
